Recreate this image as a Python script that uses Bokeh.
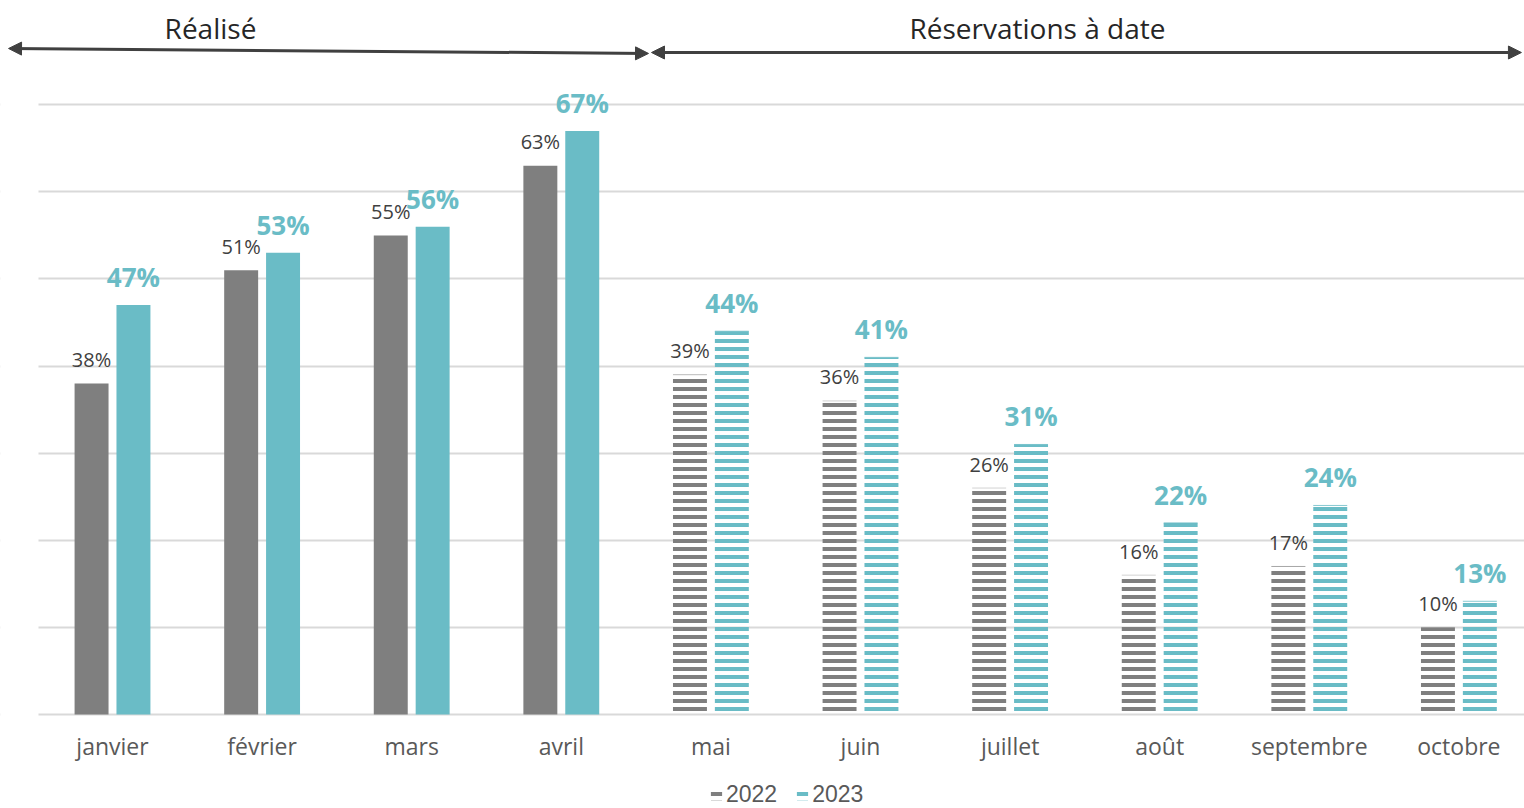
from bokeh.plotting import figure
from bokeh.models import (FixedTicker, Arrow, NormalHead, Label, Legend, LegendItem,
                          ColumnDataSource, Range1d, BoxAnnotation)
from bokeh.transform import dodge
from bokeh.core.properties import value
from bokeh.embed import file_html
from bokeh.resources import INLINE

# ---------------- data ----------------
months = ["janvier", "février", "mars", "avril", "mai", "juin",
          "juillet", "août", "septembre", "octobre"]
v2022 = [38, 51, 55, 63, 39, 36, 26, 16, 17, 10]
v2023 = [47, 53, 56, 67, 44, 41, 31, 22, 24, 13]
n_realised = 4  # janvier..avril are "Réalisé", the rest "Réservations à date"
grid_ticks = [0, 10, 20, 30, 40, 50, 60, 70]
section_titles = ["Réalisé", "Réservations à date"]

GRAY = "#7f7f7f"
TEAL = "#6abcc6"
FONT = "Open Sans"

idx = list(range(len(months)))
l22 = [f"{v}%" for v in v2022]
l23 = [f"{v}%" for v in v2023]

def make_src(sl):
    return ColumnDataSource(dict(idx=idx[sl], v22=v2022[sl], v23=v2023[sl],
                                 l22=l22[sl], l23=l23[sl]))

src_real = make_src(slice(0, n_realised))
src_resa = make_src(slice(n_realised, None))
src_all = make_src(slice(None))
src_month = ColumnDataSource(dict(idx=idx, month=months, base=[0] * len(idx)))

OFF = 0.14
BW = 0.227
X0 = -0.4947  # left end of the gridlines

p = figure(width=1524, height=808, x_range=Range1d(-0.7487, 9.4385),
           y_range=Range1d(-10.79, 81.97), x_axis_location=None, y_axis_location=None,
           min_border=0, outline_line_color=None,
           toolbar_location=None, output_backend="svg")

p.xgrid.visible = False
p.ygrid.ticker = FixedTicker(ticks=grid_ticks)
p.ygrid.grid_line_color = "#d9d9d9"
p.ygrid.grid_line_width = 2
# white cover so gridlines start a little right of the canvas edge
p.add_layout(BoxAnnotation(right=X0, fill_color="white", fill_alpha=1,
                           line_color=None, level="underlay"))

# ---------------- header: section arrows and titles ----------------
ARROW_C = "#404040"
def head():
    return NormalHead(size=13, fill_color=ARROW_C, line_color=ARROW_C)

split_x = n_realised - 0.5
p.add_layout(Arrow(x_start=-0.695, y_start=76.46, x_end=split_x + 0.083, y_end=75.89,
                   start=head(), end=head(), line_width=3, line_color=ARROW_C))
p.add_layout(Arrow(x_start=split_x + 0.103, y_start=76.0, x_end=9.418, y_end=76.0,
                   start=head(), end=head(), line_width=3, line_color=ARROW_C))
p.add_layout(Label(x=0.655, y=78.87, text=section_titles[0], text_align="center",
                   text_baseline="middle", text_font=FONT, text_font_size="28px",
                   text_color="#262626"))
p.add_layout(Label(x=6.183, y=78.87, text=section_titles[1], text_align="center",
                   text_baseline="middle", text_font=FONT, text_font_size="28px",
                   text_color="#262626"))

# solid bars (realised)
p.vbar(x=dodge("idx", -OFF), top="v22", width=BW, source=src_real,
       fill_color=GRAY, line_color=None)
p.vbar(x=dodge("idx", OFF), top="v23", width=BW, source=src_real,
       fill_color=TEAL, line_color=None)

# hatched bars (reservations)
r22 = p.vbar(x=dodge("idx", -OFF), top="v22", width=BW, source=src_resa,
             fill_color=None, line_color=None, hatch_pattern="horizontal_line",
             hatch_color=GRAY, hatch_scale=8, hatch_weight=4)
r23 = p.vbar(x=dodge("idx", OFF), top="v23", width=BW, source=src_resa,
             fill_color=None, line_color=None, hatch_pattern="horizontal_line",
             hatch_color=TEAL, hatch_scale=8, hatch_weight=4)
p.segment(x0=dodge("idx", -OFF - BW / 2), x1=dodge("idx", -OFF + BW / 2),
          y0="v22", y1="v22", source=src_resa, line_color=GRAY, line_alpha=0.35, line_width=1)
p.segment(x0=dodge("idx", OFF - BW / 2), x1=dodge("idx", OFF + BW / 2),
          y0="v23", y1="v23", source=src_resa, line_color=TEAL, line_alpha=0.8, line_width=1)

# value labels
p.text(x=dodge("idx", -OFF), y="v22", text="l22", source=src_all,
       text_align="center", text_baseline="middle", y_offset=-24,
       text_font=value(FONT), text_font_size="20px", text_color="#404040")
p.text(x=dodge("idx", OFF), y="v23", text="l23", source=src_all,
       text_align="center", text_baseline="middle", y_offset=-28,
       text_font=value(FONT), text_font_size="26px", text_font_style="bold",
       text_color=TEAL)

# category labels under the baseline
p.text(x="idx", y="base", text="month", source=src_month,
       text_align="center", text_baseline="middle", y_offset=31,
       text_font=value(FONT), text_font_size="23px", text_color="#595959")

# legend at the bottom (screen units from the frame's bottom-left)
legend = Legend(items=[LegendItem(label="2022", renderers=[r22]),
                       LegendItem(label="2023", renderers=[r23])],
                orientation="horizontal", location=(709, 0),
                label_text_font="Liberation Sans", label_text_font_size="23px",
                label_text_color="#595959", glyph_width=14, glyph_height=12,
                border_line_color=None, background_fill_alpha=0,
                padding=0, spacing=18, label_standoff=3, margin=0)
p.add_layout(legend)

open("out.html", "w").write(file_html(p, INLINE))
